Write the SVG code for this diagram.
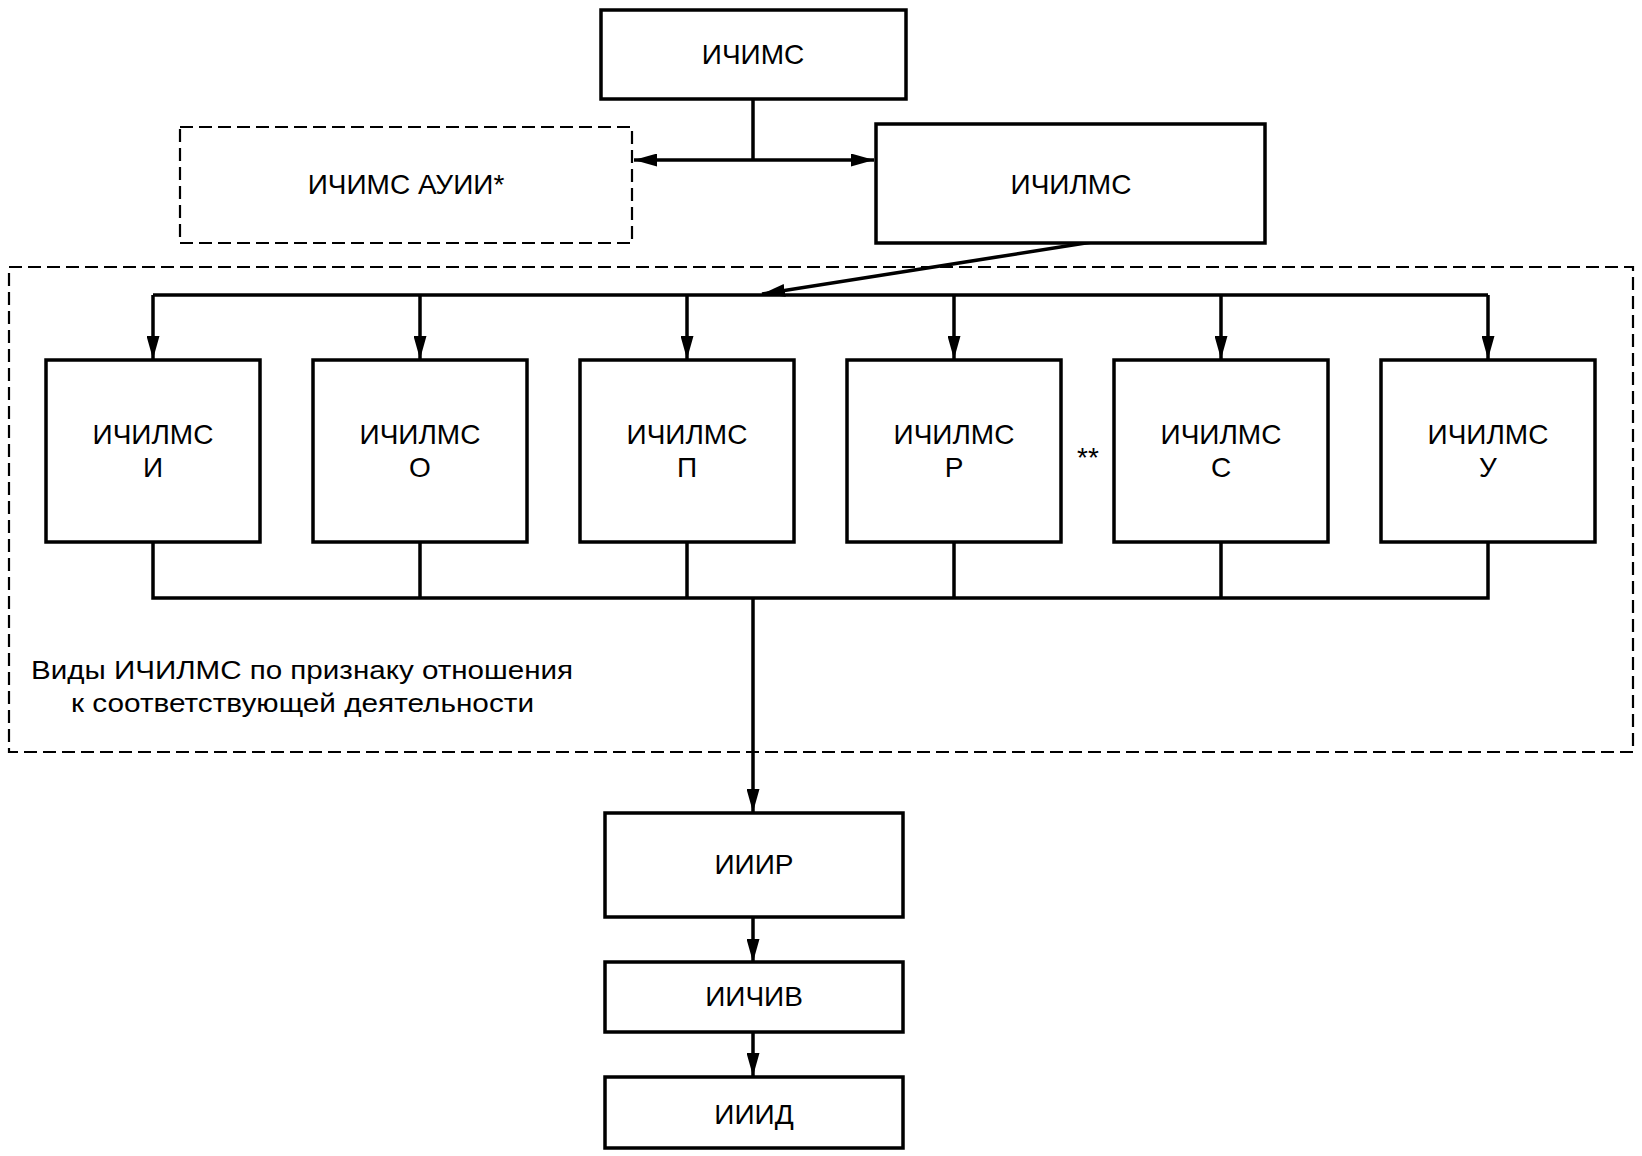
<svg xmlns="http://www.w3.org/2000/svg" width="1642" height="1156" viewBox="0 0 1642 1156">
<style>
.box{fill:#fff;stroke:#000;stroke-width:3.5}
.dash{fill:none;stroke:#000;stroke-width:2.2;stroke-dasharray:13 6}
.ln{fill:none;stroke:#000;stroke-width:3.5}
.t{font-family:"Liberation Sans",Arial,sans-serif;font-size:28px;fill:#000;text-anchor:middle}
.lbl{font-family:"Liberation Sans",Arial,sans-serif;font-size:26px;fill:#000}
</style>
<defs>
<marker id="ah" viewBox="0 0 23 13" refX="23" refY="6.5" markerWidth="23" markerHeight="13" markerUnits="userSpaceOnUse" orient="auto-start-reverse">
<path d="M0,0 L23,6.5 L0,13 z" fill="#000"/>
</marker>
</defs>
<rect width="1642" height="1156" fill="#fff"/>

<g id="group-vidy">
<rect class="dash" x="9" y="267" width="1624" height="485"/>
<text class="lbl" x="31" y="679" textLength="542" lengthAdjust="spacingAndGlyphs">Виды ИЧИЛМС по признаку отношения</text>
<text class="lbl" x="71" y="712" textLength="463" lengthAdjust="spacingAndGlyphs">к соответствующей деятельности</text>
</g>

<g id="connectors">
<line class="ln" x1="753" y1="99" x2="753" y2="160"/>
<line class="ln" x1="634" y1="160" x2="874" y2="160" marker-start="url(#ah)" marker-end="url(#ah)"/>
<line class="ln" x1="1092" y1="242" x2="762" y2="294" marker-end="url(#ah)"/>
<line class="ln" x1="153" y1="295" x2="1488" y2="295"/>
<line class="ln" x1="153" y1="295" x2="153" y2="359" marker-end="url(#ah)"/>
<line class="ln" x1="420" y1="295" x2="420" y2="359" marker-end="url(#ah)"/>
<line class="ln" x1="687" y1="295" x2="687" y2="359" marker-end="url(#ah)"/>
<line class="ln" x1="954" y1="295" x2="954" y2="359" marker-end="url(#ah)"/>
<line class="ln" x1="1221" y1="295" x2="1221" y2="359" marker-end="url(#ah)"/>
<line class="ln" x1="1488" y1="295" x2="1488" y2="359" marker-end="url(#ah)"/>
<path class="ln" d="M153,542 V598 H1488 V542 M420,542 V598 M687,542 V598 M954,542 V598 M1221,542 V598"/>
<line class="ln" x1="753" y1="598" x2="753" y2="812" marker-end="url(#ah)"/>
<line class="ln" x1="753" y1="917" x2="753" y2="962" marker-end="url(#ah)"/>
<line class="ln" x1="753" y1="1032" x2="753" y2="1076" marker-end="url(#ah)"/>
</g>

<g id="n-ichims">
<rect class="box" x="601" y="10" width="305" height="89"/>
<text class="t" x="753" y="64">ИЧИМС</text>
</g>
<g id="n-ichims-auii">
<rect class="dash" x="180" y="127" width="452" height="116"/>
<text class="t" x="406" y="194">ИЧИМС АУИИ*</text>
</g>
<g id="n-ichilms">
<rect class="box" x="876" y="124" width="389" height="119"/>
<text class="t" x="1071" y="194">ИЧИЛМС</text>
</g>

<g id="n-i">
<rect class="box" x="46" y="360" width="214" height="182"/>
<text class="t" x="153" y="444">ИЧИЛМС</text><text class="t" x="153" y="477">И</text>
</g>
<g id="n-o">
<rect class="box" x="313" y="360" width="214" height="182"/>
<text class="t" x="420" y="444">ИЧИЛМС</text><text class="t" x="420" y="477">О</text>
</g>
<g id="n-p">
<rect class="box" x="580" y="360" width="214" height="182"/>
<text class="t" x="687" y="444">ИЧИЛМС</text><text class="t" x="687" y="477">П</text>
</g>
<g id="n-r">
<rect class="box" x="847" y="360" width="214" height="182"/>
<text class="t" x="954" y="444">ИЧИЛМС</text><text class="t" x="954" y="477">Р</text>
</g>
<g id="n-s">
<rect class="box" x="1114" y="360" width="214" height="182"/>
<text class="t" x="1221" y="444">ИЧИЛМС</text><text class="t" x="1221" y="477">С</text>
</g>
<g id="n-u">
<rect class="box" x="1381" y="360" width="214" height="182"/>
<text class="t" x="1488" y="444">ИЧИЛМС</text><text class="t" x="1488" y="477">У</text>
</g>
<g id="note-stars">
<text class="t" x="1088" y="467">**</text>
</g>

<g id="n-iiir">
<rect class="box" x="605" y="813" width="298" height="104"/>
<text class="t" x="754" y="874">ИИИР</text>
</g>
<g id="n-iichiv">
<rect class="box" x="605" y="962" width="298" height="70"/>
<text class="t" x="754" y="1006">ИИЧИВ</text>
</g>
<g id="n-iiid">
<rect class="box" x="605" y="1077" width="298" height="71"/>
<text class="t" x="754" y="1124">ИИИД</text>
</g>
</svg>
